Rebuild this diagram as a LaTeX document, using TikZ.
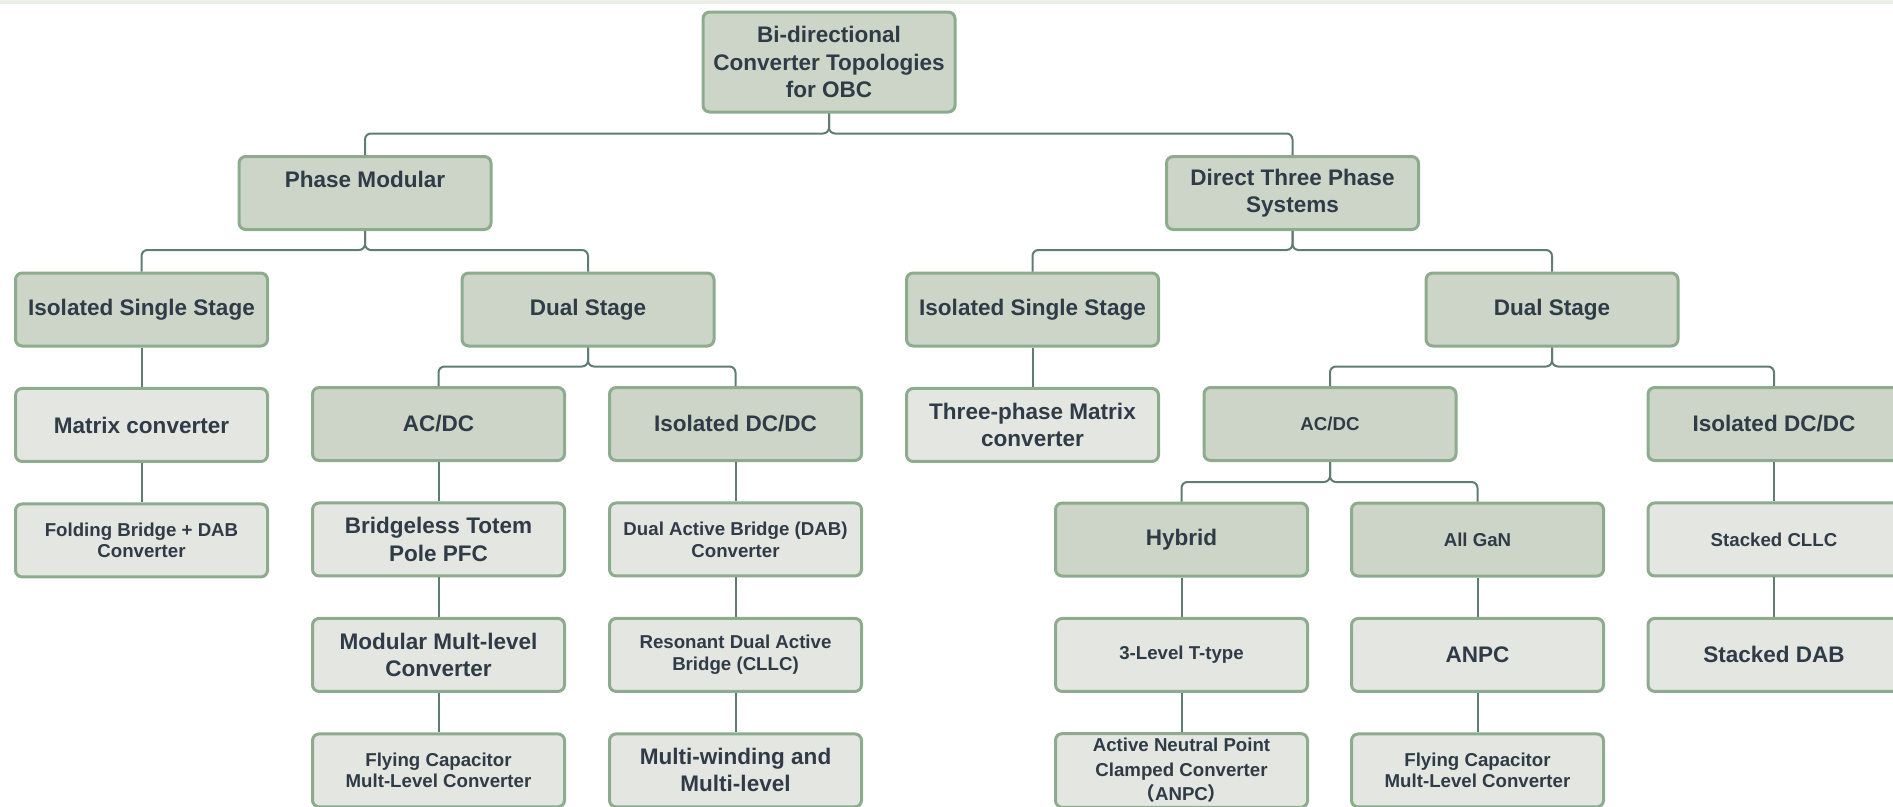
\documentclass[tikz,border=0pt]{standalone}
\usepackage{fontspec}
\setmainfont{Liberation Sans}
\newfontfamily\cjk{Noto Sans CJK SC}
\usepackage{tikz}
\usetikzlibrary{positioning}
\usepackage{xcolor}
\definecolor{headfill}{RGB}{205,213,200}
\definecolor{leaffill}{RGB}{228,230,225}
\definecolor{boxline}{RGB}{141,171,141}
\definecolor{linkline}{RGB}{95,125,115}
\definecolor{textdark}{RGB}{47,59,70}
\definecolor{topband}{RGB}{233,239,230}
\tikzstyle{head} = [rectangle, rounded corners=5pt, minimum width=189pt, minimum height=54.75pt, align=center, draw=boxline, line width=2.25pt, fill=headfill, text=textdark]
\tikzstyle{leaf} = [rectangle, rounded corners=5pt, minimum width=189pt, minimum height=54.75pt, align=center, draw=boxline, line width=2.25pt, fill=leaffill, text=textdark]
\tikzstyle{bigfont} = [font=\fontsize{16.9}{20.3}\selectfont\bfseries]
\tikzstyle{smallfont} = [font=\fontsize{14}{16.3}\selectfont\bfseries]
\tikzstyle{link} = [draw=linkline, line width=1.5pt, rounded corners=4.5pt]

\begin{document}
\begin{tikzpicture}[x=0.75pt, y=-0.75pt, node distance=86.6pt]
\useasboundingbox (0,0) rectangle (1893,807);
\clip (0,0) rectangle (1893,807);
\fill[topband] (0,0) rectangle (1893,3.5);

% Root
\node (root) [head, bigfont, minimum height=75pt] at (829,62) {Bi-directional\\Converter Topologies\\for OBC};

% Main split
\node (phase) [head, bigfont] at (365,193) {Phase Modular\\\mbox{}};
\node (direct) [head, bigfont] at (1292.5,193) {Direct Three Phase\\Systems};

% Phase modular branch
\node (iss1) [head, bigfont] at (141.5,309.5) {Isolated Single Stage};
\node (matrix) [leaf, bigfont, below of=iss1] {Matrix converter};
\node (folding) [leaf, smallfont, below of=matrix] {Folding Bridge + DAB\\Converter};
\node (dual1) [head, bigfont] at (588,309.5) {Dual Stage};
\node (acdc1) [head, bigfont] at (438.5,424) {AC/DC};
\node (totem) [leaf, bigfont, below of=acdc1] {Bridgeless Totem\\Pole PFC};
\node (mmc) [leaf, bigfont, below of=totem] {Modular Mult-level\\Converter};
\node (fcml1) [leaf, smallfont, below of=mmc] {Flying Capacitor\\Mult-Level Converter};
\node (dcdc1) [head, bigfont] at (735.5,424) {Isolated DC/DC};
\node (dab) [leaf, smallfont, below of=dcdc1] {Dual Active Bridge (DAB)\\Converter};
\node (rdab) [leaf, smallfont, below of=dab] {Resonant Dual Active\\Bridge (CLLC)};
\node (multi) [leaf, bigfont, below of=rdab] {Multi-winding and\\Multi-level};

% Direct three phase branch
\node (iss2) [head, bigfont] at (1032.5,309.5) {Isolated Single Stage};
\node (tpmatrix) [leaf, bigfont, below of=iss2] {Three-phase Matrix\\converter};
\node (dual2) [head, bigfont] at (1552,309.5) {Dual Stage};
\node (acdc2) [head, smallfont] at (1330,424) {AC/DC};
\node (hybrid) [head, bigfont] at (1181.5,539.5) {Hybrid};
\node (tlt) [leaf, smallfont, below of=hybrid] {3-Level T-type};
\node (anpcconv) [leaf, font=\fontsize{14}{18.5}\selectfont\bfseries, below of=tlt] {Active Neutral Point\\Clamped Converter\\{\cjk （}ANPC{\cjk ）}};
\node (gan) [head, smallfont] at (1477.5,539.5) {All GaN};
\node (anpc) [leaf, bigfont, below of=gan] {ANPC};
\node (fcml2) [leaf, smallfont, below of=anpc] {Flying Capacitor\\Mult-Level Converter};
\node (dcdc2) [head, bigfont] at (1774,424) {Isolated DC/DC};
\node (cllc) [leaf, smallfont, below of=dcdc2] {Stacked CLLC};
\node (sdab) [leaf, bigfont, below of=cllc] {Stacked DAB};

% Tree links
\draw [link] (root.south) -- ++(0,20) -| (phase.north);
\draw [link] (root.south) -- ++(0,20) -| (direct.north);
\draw [link] (phase.south) -- ++(0,19) -| (iss1.north);
\draw [link] (phase.south) -- ++(0,19) -| (dual1.north);
\draw [link] (direct.south) -- ++(0,19) -| (iss2.north);
\draw [link] (direct.south) -- ++(0,19) -| (dual2.north);
\draw [link] (dual1.south) -- ++(0,19) -| (acdc1.north);
\draw [link] (dual1.south) -- ++(0,19) -| (dcdc1.north);
\draw [link] (dual2.south) -- ++(0,19) -| (acdc2.north);
\draw [link] (dual2.south) -- ++(0,19) -| (dcdc2.north);
\draw [link] (acdc2.south) -- ++(0,20) -| (hybrid.north);
\draw [link] (acdc2.south) -- ++(0,20) -| (gan.north);

% Straight chains
\draw [link] (iss1) -- (matrix);
\draw [link] (matrix) -- (folding);
\draw [link] (acdc1) -- (totem);
\draw [link] (totem) -- (mmc);
\draw [link] (mmc) -- (fcml1);
\draw [link] (dcdc1) -- (dab);
\draw [link] (dab) -- (rdab);
\draw [link] (rdab) -- (multi);
\draw [link] (iss2) -- (tpmatrix);
\draw [link] (hybrid) -- (tlt);
\draw [link] (tlt) -- (anpcconv);
\draw [link] (gan) -- (anpc);
\draw [link] (anpc) -- (fcml2);
\draw [link] (dcdc2) -- (cllc);
\draw [link] (cllc) -- (sdab);

\end{tikzpicture}
\end{document}
